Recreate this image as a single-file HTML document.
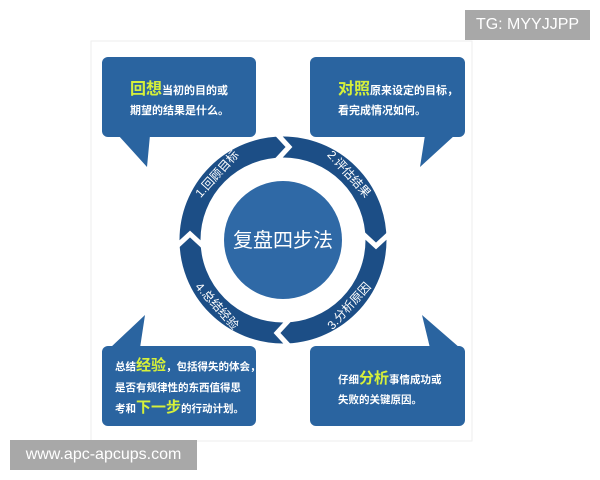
<!DOCTYPE html>
<html><head><meta charset="utf-8"><style>
body{margin:0;background:#fff;width:600px;height:480px;overflow:hidden;position:relative;font-family:"Liberation Sans","Noto Sans CJK SC",sans-serif}
.wm{position:absolute;background:#a8a8a8;color:#fff;font-size:16px;display:flex;align-items:center;justify-content:center}
</style></head><body>
<svg width="600" height="480" style="position:absolute;left:0;top:0" font-family="Liberation Sans, Noto Sans CJK SC, sans-serif">
<rect x="91" y="41" width="381" height="400" fill="#fff" stroke="#eee"/>
<g fill="#2a64a0">
<rect x="102" y="57" width="154" height="80" rx="6"/>
<polygon points="118,135 150,135 147,167"/>
<rect x="310" y="57" width="155" height="80" rx="6"/>
<polygon points="425,135 455,135 420,167"/>
<rect x="102" y="346" width="154" height="80" rx="6"/>
<polygon points="110,348 140,348 145,315"/>
<rect x="310" y="346" width="155" height="80" rx="6"/>
<polygon points="430,348 460,348 422,315"/>
</g>
<circle cx="283" cy="240" r="93" fill="none" stroke="#1c4e86" stroke-width="21"/>
<g stroke="#fff" stroke-width="5" fill="none">
<polyline points="277,134 289,147 277,160" transform="rotate(0 283 240)"/>
<polyline points="277,134 289,147 277,160" transform="rotate(90 283 240)"/>
<polyline points="277,134 289,147 277,160" transform="rotate(180 283 240)"/>
<polyline points="277,134 289,147 277,160" transform="rotate(270 283 240)"/>
</g>
<circle cx="283" cy="240" r="59" fill="#2f69a6"/>
<text x="283" y="247" fill="#fff" font-size="20" text-anchor="middle">复盘四步法</text>
<g fill="#fff" font-size="12" text-anchor="middle" dominant-baseline="central">
<text transform="translate(217,174) rotate(-48)">1.回顾目标</text>
<text transform="translate(349,174) rotate(48)">2.评估结果</text>
<text transform="translate(349,306) rotate(-48)">3.分析原因</text>
<text transform="translate(217,306) rotate(48)">4.总结经验</text>
</g>
<g fill="#fff" font-size="11" font-weight="bold">
<text x="130" y="94"><tspan fill="#d6f03a" font-size="16">回想</tspan>当初的目的或</text>
<text x="130" y="114">期望的结果是什么。</text>
<text x="338" y="94"><tspan fill="#d6f03a" font-size="16">对照</tspan>原来设定的目标，</text>
<text x="338" y="114">看完成情况如何。</text>
</g>
<g fill="#fff" font-size="10.5" font-weight="bold">
<text x="115" y="370">总结<tspan fill="#d6f03a" font-size="15">经验</tspan>，包括得失的体会，</text>
<text x="115" y="391">是否有规律性的东西值得思</text>
<text x="115" y="412">考和<tspan fill="#d6f03a" font-size="15">下一步</tspan>的行动计划。</text>
<text x="338" y="383">仔细<tspan fill="#d6f03a" font-size="15">分析</tspan>事情成功或</text>
<text x="338" y="403">失败的关键原因。</text>
</g>
</svg>
<div class="wm" style="left:465px;top:10px;width:125px;height:30px">TG: MYYJJPP</div>
<div class="wm" style="left:10px;top:440px;width:187px;height:30px">www.apc-apcups.com</div>
</body></html>
